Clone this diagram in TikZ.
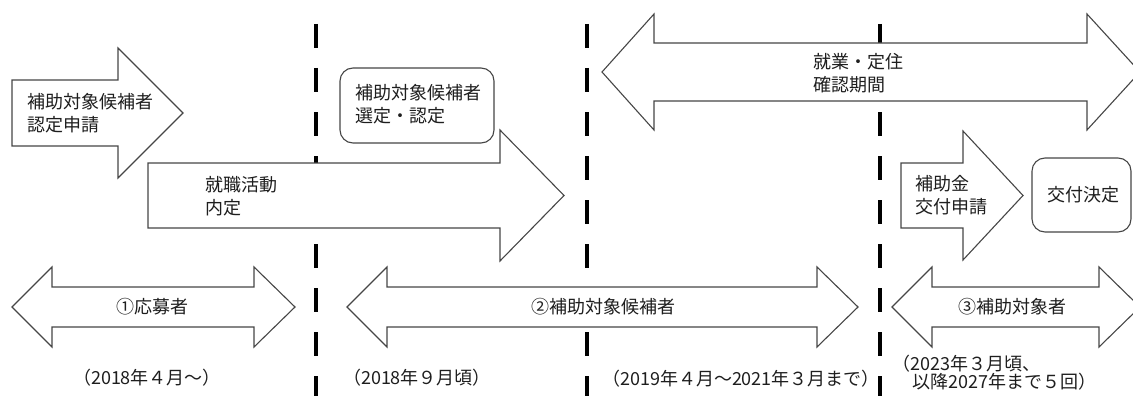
\documentclass[tikz,border=0pt]{standalone}
\usepackage{fontspec}
\setmainfont{Noto Sans CJK JP}
\definecolor{linegray}{RGB}{70,70,70}
\definecolor{textgray}{RGB}{30,30,30}
\begin{document}
\begin{tikzpicture}[x=1pt,y=-1pt,
  outl/.style={draw=linegray, line width=1.1pt, fill=white, line join=miter},
  sepline/.style={line width=4.2pt, black, dash pattern=on 24pt off 20pt},
  lbl/.style={inner sep=0pt, font=\fontsize{18}{23}\selectfont, text=textgray},
  lblL/.style={lbl, anchor=west, align=left},
  lblC/.style={lbl, anchor=center, align=center},
  datelbl/.style={lbl, anchor=center}]
\path[use as bounding box, clip] (0,0) rectangle (1133,396);

% period separators
\draw[sepline] (316,24) -- (316,396);
\draw[sepline] (587,24) -- (587,396);
\draw[sepline] (880,24) -- (880,396);

% top arrows and boxes
\draw[outl] (12,80) -- (118,80) -- (118,48) -- (183,113) -- (118,178) -- (118,146) -- (12,146) -- cycle;
\draw[outl] (148,163) -- (500,163) -- (500,130) -- (564,195.5) -- (500,261) -- (500,228) -- (148,228) -- cycle;
\draw[outl, rounded corners=13pt] (340,68) rectangle (494,143);
\draw[outl] (602,72) -- (654,14) -- (654,43) -- (1087,43) -- (1087,14) -- (1140,72) -- (1087,130) -- (1087,101) -- (654,101) -- (654,130) -- cycle;
\draw[outl] (901,163) -- (963,163) -- (963,131) -- (1023,195.5) -- (963,260) -- (963,228) -- (901,228) -- cycle;
\draw[outl, rounded corners=13pt] (1032,158) rectangle (1131,232);

% bottom double arrows
\draw[outl] (12,307) -- (52,267) -- (52,287) -- (254,287) -- (254,267) -- (295,307) -- (254,347) -- (254,327) -- (52,327) -- (52,347) -- cycle;
\draw[outl] (347,307) -- (387,267) -- (387,287) -- (817,287) -- (817,267) -- (858,307) -- (817,347) -- (817,327) -- (387,327) -- (387,347) -- cycle;
\draw[outl] (892,307) -- (932,267) -- (932,287) -- (1099,287) -- (1099,267) -- (1140,307) -- (1099,347) -- (1099,327) -- (932,327) -- (932,347) -- cycle;

% labels
\node[lblL] (t1) at (27,113.5) {補助対象候補者\\認定申請};
\node[lblL] (t2) at (205,196.5) {就職活動\\内定};
\node[lblL] (t3) at (355,104.5) {補助対象候補者\\選定・認定};
\node[lblL] (t4) at (813,73.5) {就業・定住\\確認期間};
\node[lblL] (t5) at (915,195.5) {補助金\\交付申請};
\node[lblC] (t6) at (1083,195) {交付決定};
\node[lblC] (t7) at (152,307) {①応募者};
\node[lblC] (t8) at (603,307) {②補助対象候補者};
\node[lblC] (t9) at (1012,307) {③補助対象者};

% dates
\node[datelbl] (d1) at (147,378) {（2018年４月～）};
\node[datelbl] (d2) at (417,378) {（2018年９月頃）};
\node[datelbl] (d3) at (741,379) {（2019年４月～2021年３月まで）};
\node[lbl, anchor=west, align=left, font=\fontsize{18}{16.5}\selectfont] (d4) at (892,373) {（2023年３月頃、\\\hspace*{20pt}以降2027年まで５回）};
\end{tikzpicture}
\end{document}
